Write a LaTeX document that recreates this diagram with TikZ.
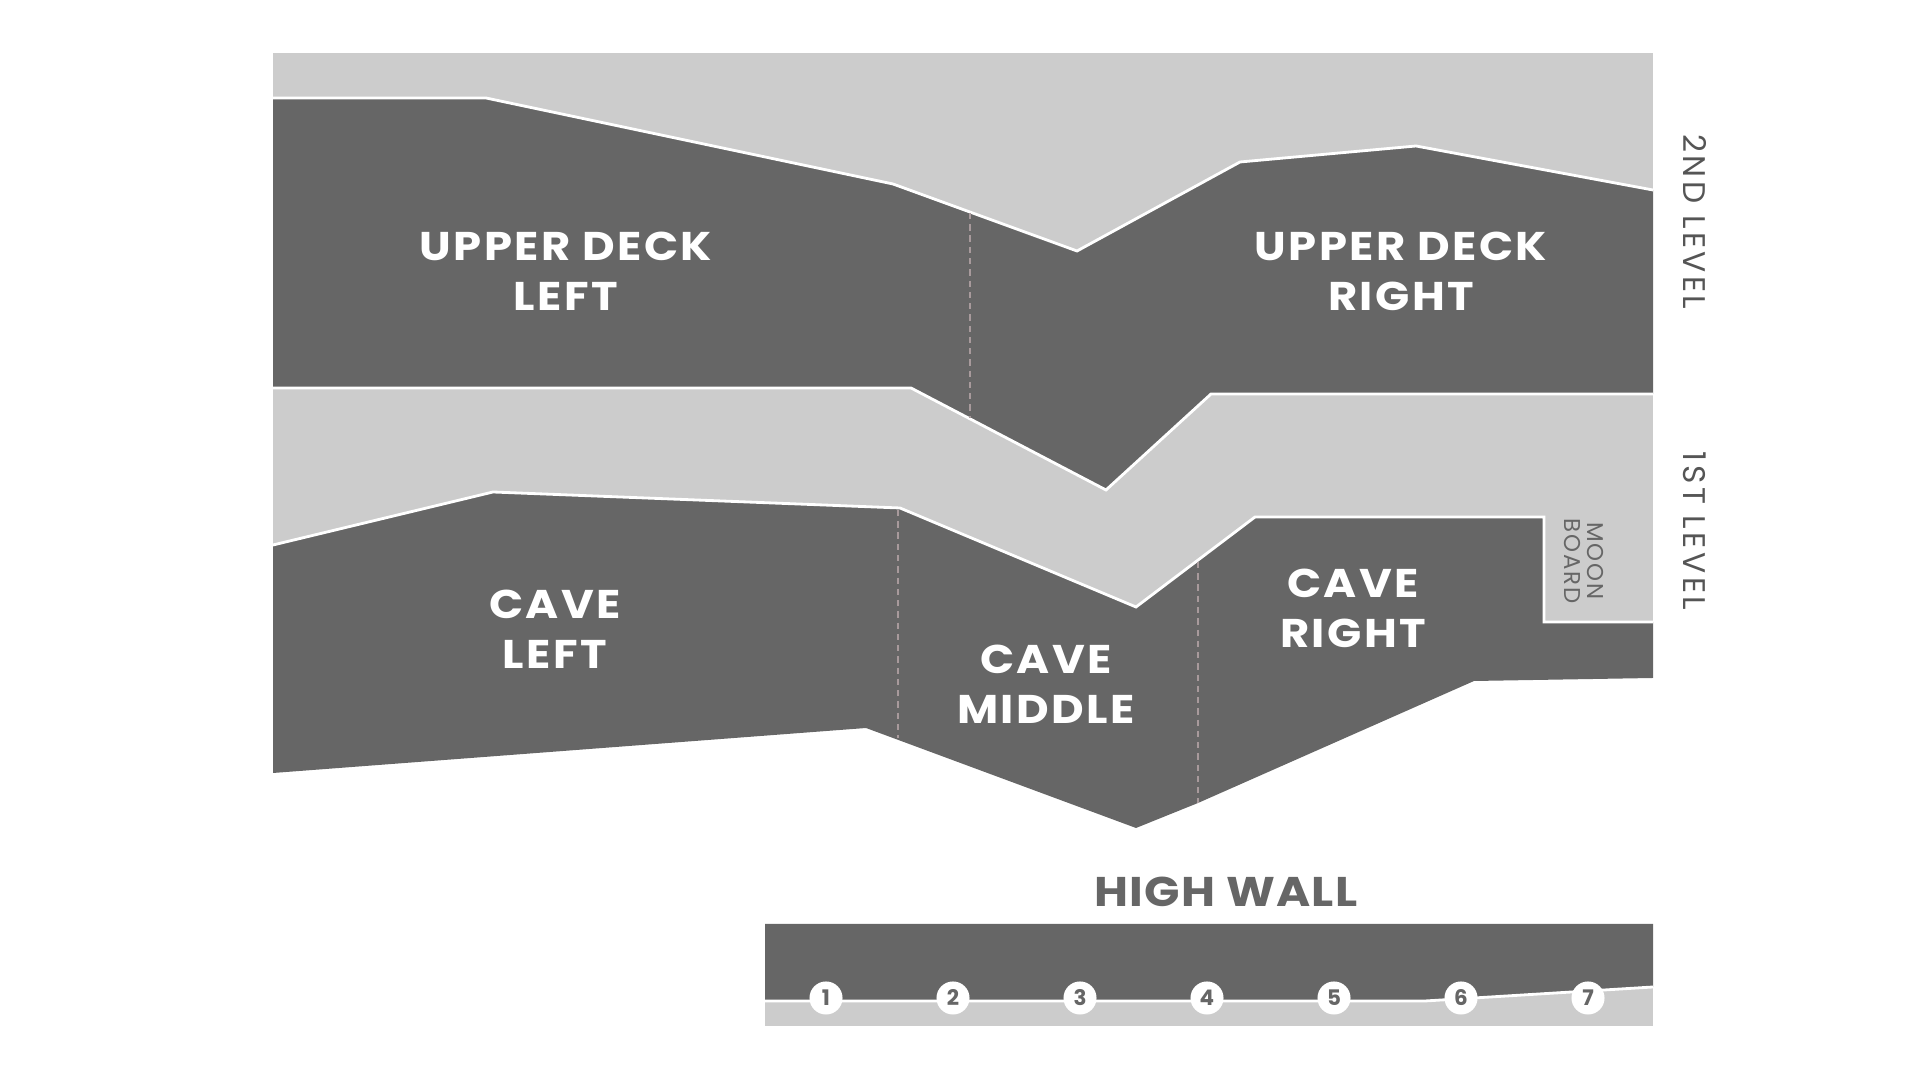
\documentclass[tikz,border=0pt]{standalone}
\usepackage{fontspec}
\setmainfont{Poppins}
\newfontfamily\zonefont[LetterSpace=6,FakeStretch=1.12]{Poppins}
\newfontfamily\titlefont[LetterSpace=3,FakeStretch=1.12]{Poppins}
\newfontfamily\levelfont[LetterSpace=11]{Poppins}
\newfontfamily\moonfont[LetterSpace=8]{Poppins}
\definecolor{dk}{HTML}{666666}
\definecolor{lt}{HTML}{CCCCCC}
\definecolor{txt}{HTML}{555555}
\definecolor{dashc}{HTML}{A89A9C}
\begin{document}
\begin{tikzpicture}[x=0.01cm,y=-0.01cm,
  sep/.style={draw=white, line width=0.8pt, line join=miter},
  divider/.style={draw=dashc, line width=0.6pt, dash pattern=on 1.8pt off 1.4pt},
  zonelabel/.style={text=white, font=\zonefont\fontsize{11.4}{14.2}\selectfont\bfseries, align=center, inner sep=0pt},
  levellabel/.style={text=txt, font=\levelfont\fontsize{8.9}{10}\selectfont, rotate=-90, anchor=base, inner sep=0pt},
  moonlabel/.style={text=dk, font=\moonfont\fontsize{6.5}{7}\selectfont, rotate=-90, anchor=base, inner sep=0pt},
  numdot/.style={circle, fill=white, minimum size=9.4pt, inner sep=0pt, text=dk, font=\fontsize{6.1}{7}\selectfont\bfseries},
  title/.style={text=dk, font=\titlefont\fontsize{11.8}{13}\selectfont\bfseries, anchor=base, inner sep=0pt}]
\useasboundingbox (0,0) rectangle (1920,1080);
% light background of both levels
\fill[lt] (273,53) rectangle (1653,622);
% upper deck
\fill[dk] (273,98) -- (486,98) -- (893,184) -- (1077,251) -- (1240,162) -- (1416,146) -- (1653,190)
  -- (1653,394) -- (1211,394) -- (1106,490) -- (911,388) -- (273,388) -- cycle;
\draw[sep] (273,98) -- (486,98) -- (893,184) -- (1077,251) -- (1240,162) -- (1416,146) -- (1653,190);
\draw[sep] (1653,394) -- (1211,394) -- (1106,490) -- (911,388) -- (273,388);
\draw[divider] (970,213) -- (970,418);
% cave
\fill[dk] (273,545) -- (493,492) -- (900,508) -- (1136,607) -- (1255,517) -- (1544,517) -- (1544,622)
  -- (1653,622) -- (1653,678) -- (1474,681) -- (1198,803) -- (1136,828) -- (866,728) -- (273,773) -- cycle;
\draw[sep] (273,545) -- (493,492) -- (900,508) -- (1136,607) -- (1255,517) -- (1544,517) -- (1544,622) -- (1653,622);
\draw[divider] (898,510) -- (898,738);
\draw[divider] (1198,562) -- (1198,803);
% labels
\node[zonelabel] (udl) at (566,271) {UPPER DECK\\LEFT};
\node[zonelabel] (udr) at (1401,271) {UPPER DECK\\RIGHT};
\node[zonelabel] (cl) at (555,629) {CAVE\\LEFT};
\node[zonelabel] (cm) at (1046,684) {CAVE\\MIDDLE};
\node[zonelabel] (cr) at (1353,608) {CAVE\\RIGHT};
\node[moonlabel] (mb1) at (1587,561) {MOON};
\node[moonlabel] (mb2) at (1564,561) {BOARD};
\node[levellabel] (lv2) at (1683,222) {2ND LEVEL};
\node[levellabel] (lv1) at (1683,531) {1ST LEVEL};
% high wall
\node[title] (hw) at (1226,907) {HIGH WALL};
\fill[lt] (765,924) rectangle (1653,1026);
\fill[dk] (765,924) -- (1653,924) -- (1653,987) -- (1425,1001) -- (765,1001) -- cycle;
\draw[sep] (765,1001) -- (1425,1001) -- (1653,987);
\foreach \i/\x in {1/826,2/953,3/1080,4/1207,5/1334,6/1461,7/1588}
  \node[numdot] (n\i) at (\x,998) {\i};
\end{tikzpicture}
\end{document}
